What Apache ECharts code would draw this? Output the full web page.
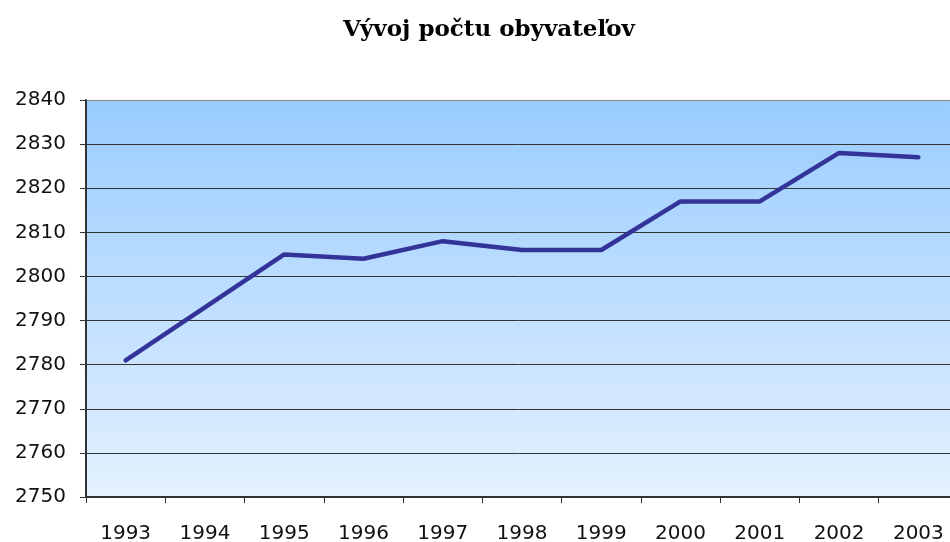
<!DOCTYPE html>
<html><head><meta charset="utf-8">
<script src="https://cdn.jsdelivr.net/npm/echarts@6/dist/echarts.min.js"></script>
<style>html,body{margin:0;padding:0;background:#fff}#c{width:950px;height:542px}</style>
</head><body><div id="c"></div>
<script>
const titleText = "Vývoj počtu obyvateľov";
const years = ["1993","1994","1995","1996","1997","1998","1999","2000","2001","2002","2003"];
const population = [2781, 2793, 2805, 2804, 2808, 2806, 2806, 2817, 2817, 2828, 2827];
const yMin = 2750, yMax = 2840, yStep = 10;

const chart = echarts.init(document.getElementById('c'), null, {renderer: 'canvas'});
chart.setOption({
  animation: false,
  title: {
    text: titleText, left: 484, top: 14, textAlign: 'center',
    textStyle: {fontFamily: 'DejaVu Serif', fontWeight: 'bold', fontSize: 23, color: '#000'}
  },
  grid: {
    left: 86, right: -8, top: 100, bottom: 45, show: true, borderWidth: 0,
    outerBoundsMode: 'none', containLabel: false,
    backgroundColor: new echarts.graphic.LinearGradient(0, 0, 0, 1, [
      {offset: 0, color: '#99CCFF'}, {offset: 1, color: '#E4F1FF'}
    ])
  },
  xAxis: {
    type: 'category', data: years, boundaryGap: true,
    axisLine: {lineStyle: {color: '#333', width: 2}},
    axisTick: {show: true, length: 6, lineStyle: {color: '#333', width: 1}},
    axisLabel: {margin: 27, fontFamily: 'DejaVu Sans', fontSize: 20, color: '#111', interval: 0}
  },
  yAxis: {
    type: 'value', min: yMin, max: yMax, interval: yStep,
    axisLine: {show: true, lineStyle: {color: '#333', width: 2}},
    axisTick: {show: true, length: 6, lineStyle: {color: '#333', width: 1}},
    axisLabel: {margin: 20, fontFamily: 'DejaVu Sans', fontSize: 20, color: '#111',
      formatter: v => String(v)},
    splitLine: {show: true, lineStyle: {color: ['#333','#333','#333','#333','#333','#333','#333','#333','#333','#888'], width: 1}}
  },
  series: [{
    type: 'line', data: population, showSymbol: false, symbol: 'none',
    lineStyle: {color: '#333399', width: 4.5, cap: 'round', join: 'round'}
  }]
});
</script></body></html>
